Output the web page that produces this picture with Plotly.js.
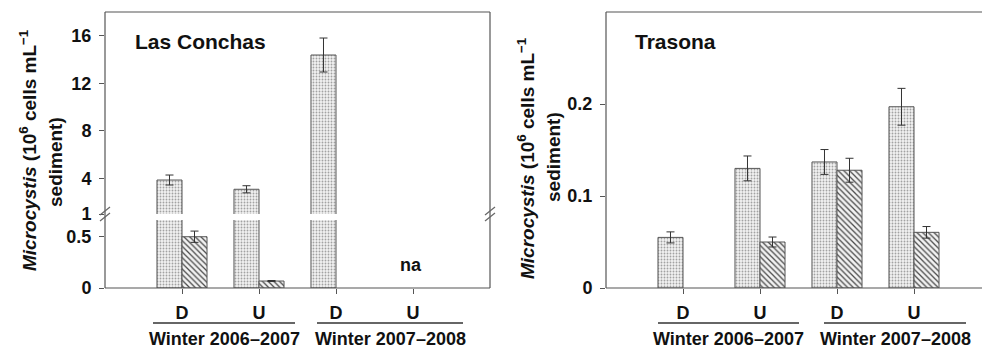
<!DOCTYPE html>
<html>
<head>
<meta charset="utf-8">
<script src="https://cdn.plot.ly/plotly-3.0.1.min.js"></script>
<style>html,body{margin:0;padding:0;background:#fff;}#chart{width:982px;height:349px;}</style>
</head>
<body>
<div id="chart"></div>
<script>
// ---- data ----
const categories = ['D', 'U', 'D', 'U'];
const catIndex = [0, 1, 2, 3];
const winters = ['Winter 2006–2007', 'Winter 2007–2008'];

// Las Conchas (10^6 cells mL^-1 sediment)
const lcDotted = [3.86, 3.08, 14.38, null];
const lcDottedErr = [0.42, 0.30, 1.43, null];
const lcHatched = [0.50, 0.068, null, null];
const lcHatchedErr = [0.055, 0.005, null, null];

// Trasona
const trDotted = [0.055, 0.130, 0.137, 0.197];
const trDottedErr = [0.006, 0.0135, 0.0135, 0.020];
const trHatched = [null, 0.050, 0.128, 0.0605];
const trHatchedErr = [null, 0.0054, 0.013, 0.0063];

const lcUpperTicks = [1, 4, 8, 12, 16];
const lcLowerTicks = [0, 0.5];
const trTicks = [0, 0.1, 0.2];
const trTickText = ['0', '0.1', '0.2'];

// ---- helpers ----
const W = 982, H = 349;
const X = px => px / W;
const Y = py => 1 - py / H;
const FONT = 'Liberation Sans, Arial, Helvetica, sans-serif';
const AX = '#555';

const dotPattern = {shape: '.', fgcolor: '#a2a2a2', bgcolor: '#f2f2f2', size: 3, solidity: 0.3};
const hatchPattern = {shape: '\\', fgcolor: '#4a4a4a', bgcolor: '#f2f2f2', size: 4, solidity: 0.32};
const barLine = {color: '#555', width: 1};
function err(arr) { return {type: 'data', array: arr, visible: true, color: '#333', thickness: 1, width: 4}; }

function bars(y, e, pattern, xa, ya) {
  return {type: 'bar', x: catIndex, y: y, xaxis: xa, yaxis: ya,
    marker: {color: pattern.bgcolor, pattern: pattern, line: barLine},
    error_y: err(e), showlegend: false, hoverinfo: 'skip'};
}

const data = [
  bars(lcDotted, lcDottedErr, dotPattern, 'x', 'y'),
  bars(lcHatched, lcHatchedErr, hatchPattern, 'x', 'y'),
  bars(lcDotted, lcDottedErr, dotPattern, 'x', 'y2'),
  bars(lcHatched, lcHatchedErr, hatchPattern, 'x', 'y2'),
  bars(trDotted, trDottedErr, dotPattern, 'x2', 'y3'),
  bars(trHatched, trHatchedErr, hatchPattern, 'x2', 'y3')
];

const tickFont = {family: FONT, size: 18, color: '#111', weight: 700};
const yCommon = {showgrid: false, zeroline: false, showline: false, ticks: 'outside', ticklen: 5,
  tickcolor: AX, tickwidth: 1, tickfont: tickFont, ticklabelstandoff: 4, fixedrange: true};
const xCommon = {showgrid: false, zeroline: false, showline: false, ticks: 'outside', ticklen: 5,
  tickcolor: AX, tickwidth: 1, tickfont: tickFont, tickvals: catIndex, ticktext: categories,
  ticklabelstandoff: 3, fixedrange: true};

const lineS = (x0, y0, x1, y1, w, c) => ({type: 'line', xref: 'paper', yref: 'paper',
  x0: X(x0), y0: Y(y0), x1: X(x1), y1: Y(y1), line: {color: c || AX, width: w || 1.2}, layer: 'above'});

const shapes = [
  // Las Conchas frame
  lineS(105, 12, 490, 12), lineS(105, 12, 105, 288), lineS(490, 12, 490, 288), lineS(105, 288, 490, 288),
  // break marks
  lineS(100, 215, 110, 207, 1.2, '#666'), lineS(100, 221, 110, 213, 1.2, '#666'),
  lineS(485, 215, 495, 207, 1.2, '#666'), lineS(485, 221, 495, 213, 1.2, '#666'),
  // Trasona frame
  lineS(606, 12, 982, 12), lineS(606, 12, 606, 288), lineS(606, 288, 982, 288),
  // season underlines
  lineS(153, 323, 295, 323, 1.6, '#333'), lineS(317, 323, 463, 323, 1.6, '#333'),
  lineS(658, 323, 799, 323, 1.6, '#333'), lineS(824, 323, 966, 323, 1.6, '#333')
];

const ann = (text, x, y, size, opts) => Object.assign({text: text, xref: 'paper', yref: 'paper',
  x: X(x), y: Y(y), showarrow: false, font: {family: FONT, size: size, color: '#111'},
  xanchor: 'center', yanchor: 'middle'}, opts || {});

const t1 = '<b><i>Microcystis</i> (10<sup>6</sup> cells mL<sup>−1</sup></b>';
const t2 = '<b>sediment)</b>';

const annotations = [
  ann('<b>Las Conchas</b>', 133, 42, 21, {xanchor: 'left'}),
  ann('<b>Trasona</b>', 633, 42, 21, {xanchor: 'left'}),
  ann('<b>na</b>', 411, 265, 18),
  ann('<b>' + winters[0] + '</b>', 224, 339, 18),
  ann('<b>' + winters[1] + '</b>', 390, 339, 18),
  ann('<b>' + winters[0] + '</b>', 728, 339, 18),
  ann('<b>' + winters[1] + '</b>', 895, 339, 18),
  ann(t1, 28, 150, 19, {textangle: -90}),
  ann(t2, 55, 162, 19, {textangle: -90}),
  ann(t1, 526, 158, 19, {textangle: -90}),
  ann(t2, 553, 157, 19, {textangle: -90})
];

const layout = {
  width: W, height: H, margin: {l: 0, r: 0, t: 0, b: 0},
  paper_bgcolor: '#fff', plot_bgcolor: 'rgba(0,0,0,0)',
  barmode: 'group', bargap: 0.35, bargroupgap: 0,
  font: {family: FONT},
  xaxis: Object.assign({}, xCommon, {domain: [X(105), X(490)], range: [-1, 4], anchor: 'y'}),
  yaxis: Object.assign({}, yCommon, {domain: [Y(288), Y(220)], range: [0, 0.663], anchor: 'x',
    tickvals: lcLowerTicks, ticktext: lcLowerTicks.map(String)}),
  yaxis2: Object.assign({}, yCommon, {domain: [Y(214), Y(12)], range: [1, 18], anchor: 'x',
    tickvals: lcUpperTicks, ticktext: lcUpperTicks.map(String)}),
  xaxis2: Object.assign({}, xCommon, {domain: [X(606), 1], range: [-1, -1 + (982 - 606) / 77], anchor: 'y3'}),
  yaxis3: Object.assign({}, yCommon, {domain: [Y(288), Y(12)], range: [0, 0.3], anchor: 'x2',
    tickvals: trTicks, ticktext: trTickText}),
  shapes: shapes,
  annotations: annotations
};

Plotly.newPlot('chart', data, layout, {displayModeBar: false, staticPlot: true});
</script>
</body>
</html>
